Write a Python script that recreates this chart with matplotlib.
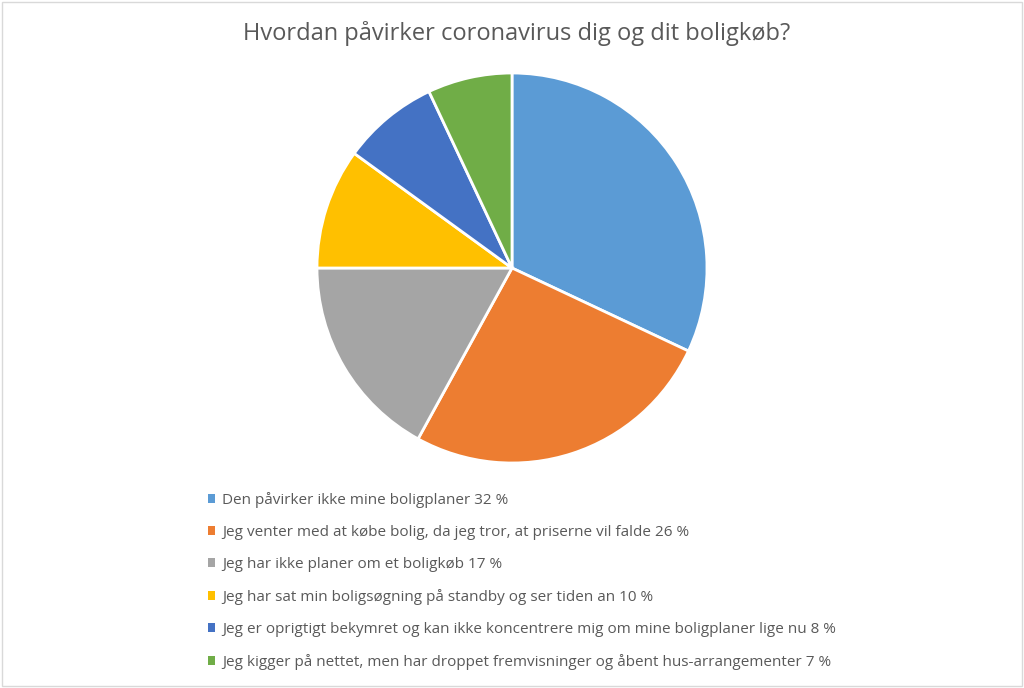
import matplotlib
matplotlib.use("Agg")
import matplotlib.pyplot as plt
from matplotlib.patches import Rectangle

title = "Hvordan påvirker coronavirus dig og dit boligkøb?"
labels = [
    "Den påvirker ikke mine boligplaner 32 %",
    "Jeg venter med at købe bolig, da jeg tror, at priserne vil falde 26 %",
    "Jeg har ikke planer om et boligkøb 17 %",
    "Jeg har sat min boligsøgning på standby og ser tiden an 10 %",
    "Jeg er oprigtigt bekymret og kan ikke koncentrere mig om mine boligplaner lige nu 8 %",
    "Jeg kigger på nettet, men har droppet fremvisninger og åbent hus-arrangementer 7 %",
]
values = [32, 26, 17, 10, 8, 7]
colors = ["#5B9BD5", "#ED7D31", "#A5A5A5", "#FFC000", "#4472C4", "#70AD47"]

plt.rcParams['font.family'] = ['Open Sans', 'DejaVu Sans']

W, H = 1024, 688
fig = plt.figure(figsize=(W / 100, H / 100), dpi=100)
fig.patch.set_facecolor("white")

# pie axes: center (512, 268), radius 195 px
r = 195
cx, cy = 512, 268
ax = fig.add_axes([(cx - r) / W, 1 - (cy + r) / H, 2 * r / W, 2 * r / H])
wedges, _ = ax.pie(values, colors=colors, startangle=90, counterclock=False,
                   wedgeprops=dict(edgecolor="white", linewidth=2))
ax.set_aspect("equal")
ax.set_xlim(-1, 1)
ax.set_ylim(-1, 1)
ax.axis("off")

fig.text(517 / W, 1 - 33 / H, title, ha="center", va="center",
         fontsize=17, color="#595959")

leg = fig.legend(wedges, labels, loc="upper left",
                 bbox_to_anchor=(200 / W, 1 - 484 / H),
                 frameon=False, fontsize=11, labelcolor="#595959",
                 handlelength=0.5, handleheight=0.5, handletextpad=0.45,
                 labelspacing=1.12, borderpad=0)
for h in leg.legend_handles:
    h.set_edgecolor("none")

# outer border
fig.patches.append(Rectangle((2 / W, 2 / H), 1 - 4 / W, 1 - 4 / H,
                             transform=fig.transFigure, fill=False,
                             edgecolor="#D9D9D9", linewidth=1))

fig.savefig("out.png", dpi=100)
